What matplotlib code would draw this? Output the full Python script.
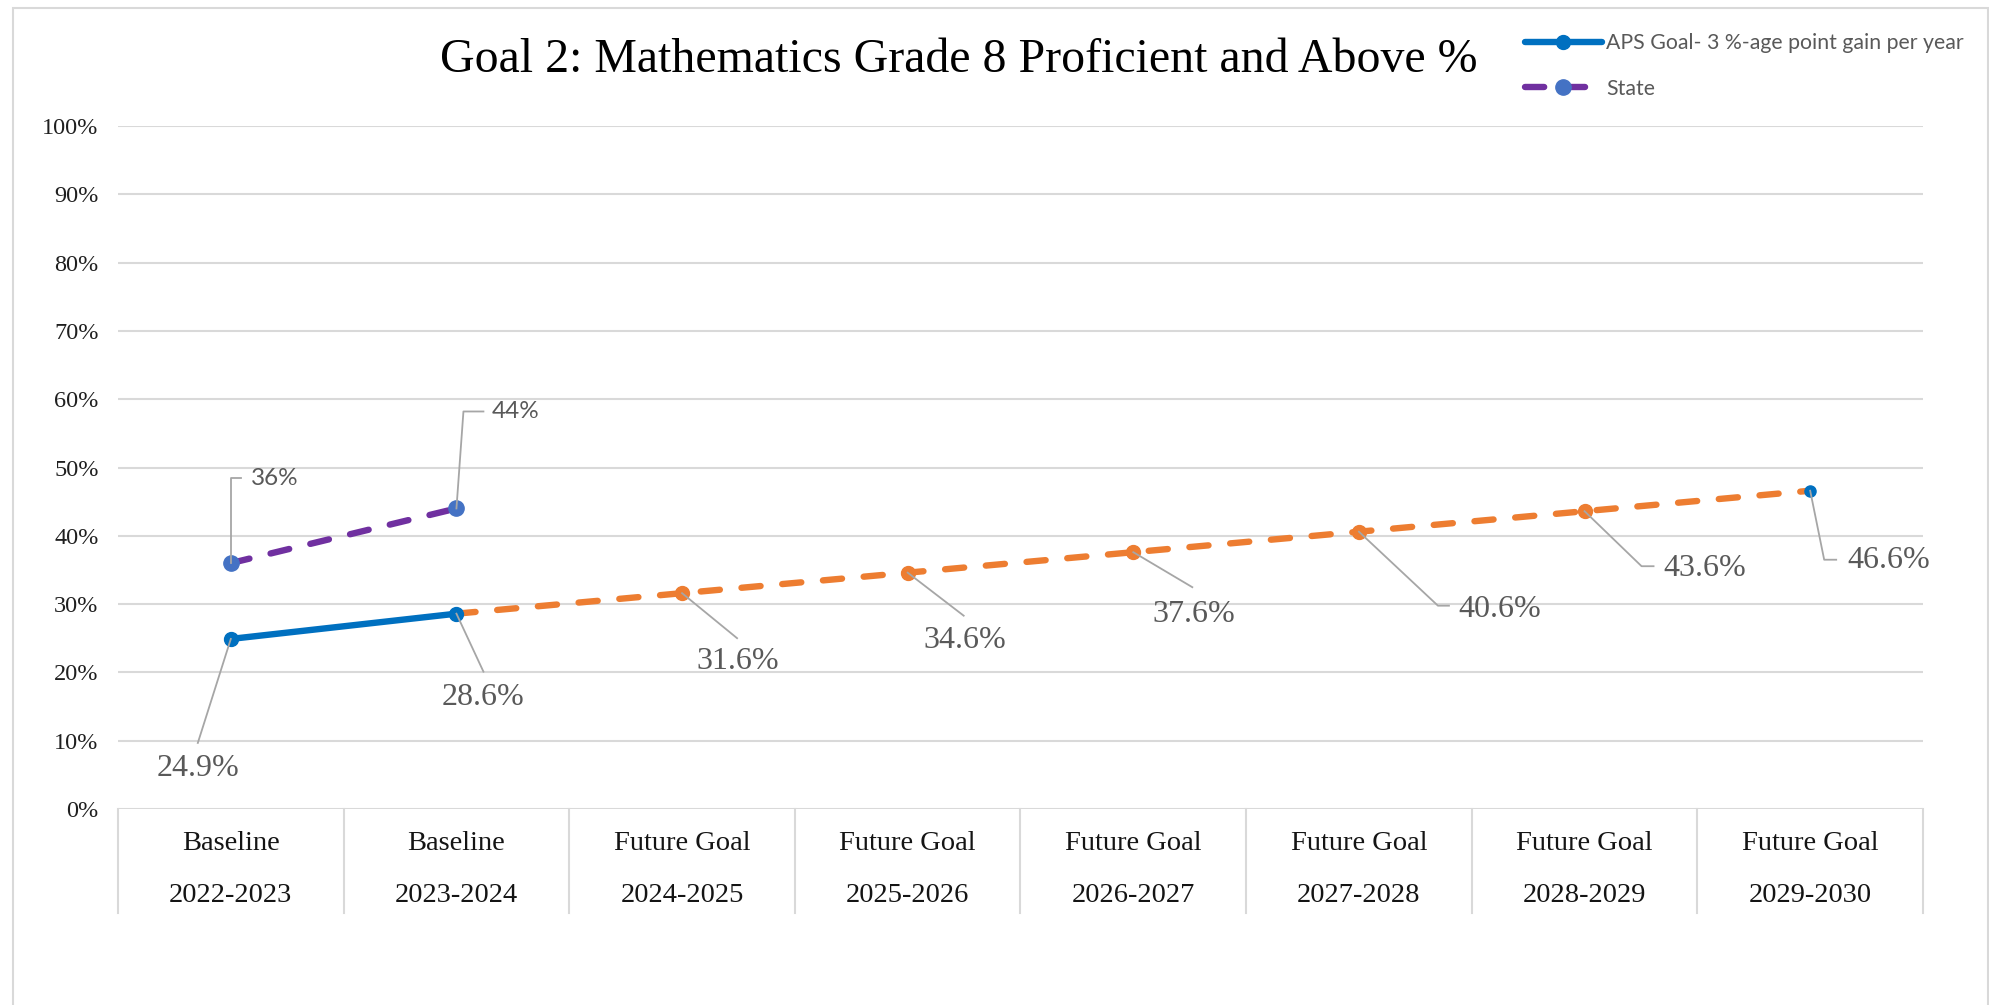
import matplotlib
matplotlib.use("Agg")
import matplotlib.pyplot as plt
from matplotlib.lines import Line2D
from matplotlib.patches import Rectangle
from matplotlib.ticker import PercentFormatter
from matplotlib.transforms import IdentityTransform

# --- dados ---
stage = ["Baseline", "Baseline", "Future Goal", "Future Goal", "Future Goal",
         "Future Goal", "Future Goal", "Future Goal"]
years = ["2022-2023", "2023-2024", "2024-2025", "2025-2026", "2026-2027",
         "2027-2028", "2028-2029", "2029-2030"]
aps_baseline = [24.9, 28.6]
aps_future = [28.6, 31.6, 34.6, 37.6, 40.6, 43.6, 46.6]   # começa em 2023-2024
state = [36, 44]

title = "Goal 2: Mathematics Grade 8 Proficient and Above %"
label_aps = "APS Goal- 3 %-age point gain per year"
label_state = "State"

BLUE = "#0070C0"
ORANGE = "#ED7D31"
PURPLE = "#7030A0"
STATE_MK = "#4472C4"
GRID = "#D9D9D9"
LABEL = "#595959"
LEADER = "#A6A6A6"
SERIF = "Liberation Serif"
SANS = "Lato"

W, H = 1990, 1005
fig = plt.figure(figsize=(W / 100, H / 100), dpi=100)

# moldura do gráfico
fig.add_artist(Rectangle((13 / W, -0.01), (1988 - 13) / W, 1 - 8 / H + 0.01,
                         transform=fig.transFigure, fill=False,
                         edgecolor=GRID, lw=1.5))

ax = fig.add_axes([118 / W, 1 - 809 / H, (1923 - 118) / W, (809 - 126) / H])
n = len(years)
ax.set_xlim(-0.5, n - 0.5)
ax.set_ylim(0, 100)
for s in ax.spines.values():
    s.set_visible(False)
ax.set_yticks(range(0, 101, 10))
ax.yaxis.set_major_formatter(PercentFormatter(xmax=100, decimals=0))
ax.tick_params(axis="y", length=0, pad=14, labelsize=17.5, labelcolor="#1f1f1f")
for t in ax.get_yticklabels():
    t.set_fontfamily(SERIF)
ax.set_xticks([])
ax.grid(axis="y", color=GRID, lw=1.5)
ax.set_axisbelow(True)

# caixa de categorias
xt = ax.get_xaxis_transform()
box_bottom = -(913 - 809) / (809 - 126)
for b in range(n + 1):
    ax.plot([b - 0.5, b - 0.5], [0, box_bottom], color=GRID, lw=1.5,
            transform=xt, clip_on=False)
for i in range(n):
    ax.text(i, -(843 - 809) / (809 - 126), stage[i], transform=xt,
            ha="center", va="center", fontsize=20.5, family=SERIF, color="#141414")
    ax.text(i, -(895 - 809) / (809 - 126), years[i], transform=xt,
            ha="center", va="center", fontsize=20.5, family=SERIF, color="#141414")

# séries
x_base = list(range(len(aps_baseline)))
x_fut = list(range(1, 1 + len(aps_future)))
x_state = list(range(len(state)))

ax.plot(x_fut, aps_future, color=ORANGE, lw=4.6, dashes=(3.0, 3.4),
        dash_capstyle="round", marker="o", ms=10, mfc=ORANGE, mec=ORANGE,
        markevery=list(range(1, len(aps_future) - 1)), zorder=3)
ax.plot(x_fut[-1:], aps_future[-1:], "o", color=BLUE, ms=8, zorder=4)
l_aps, = ax.plot(x_base, aps_baseline, color=BLUE, lw=4.6, marker="o", ms=10,
                 solid_capstyle="round", zorder=5)
l_state, = ax.plot(x_state, state, color=PURPLE, lw=4.6, dashes=(3.0, 3.4),
                   dash_capstyle="round", marker="o", ms=11, mfc=STATE_MK,
                   mec=STATE_MK, zorder=5)

# rótulos com linhas de chamada (deslocamentos em pixels, y para baixo)
def callout(x, y, text, path, txt, ha, size, family):
    px, py = ax.transData.transform((x, y))
    xs = [px] + [px + dx for dx, dy in path]
    ys = [py] + [py - dy for dx, dy in path]
    fig.add_artist(Line2D(xs, ys, transform=IdentityTransform(),
                          color=LEADER, lw=1.3))
    fig.text(px + txt[0], py - txt[1], text, transform=IdentityTransform(),
             ha=ha, va="center", fontsize=size, family=family, color=LABEL)

base_lay = [([(-33, 104)], (-33, 130), "center"),
            ([(27, 58)], (27, 84), "center")]
fut_lay = [None,
           ([(55, 45)], (56, 68), "center"),
           ([(56, 43)], (57, 68), "center"),
           ([(59, 35)], (61, 62), "center"),
           ([(79, 74), (90, 74)], (99, 78), "left"),
           ([(57, 55), (69, 55)], (79, 57), "left"),
           ([(14, 69), (26, 69)], (37, 70), "left")]
state_lay = [([(0, -85), (10, -85)], (20, -85), "left"),
             ([(7, -97), (27, -97)], (35, -97), "left")]

for xi, v, lay in zip(x_base, aps_baseline, base_lay):
    callout(xi, v, f"{v:.1f}%", lay[0], lay[1], lay[2], 23, SERIF)
for xi, v, lay in zip(x_fut, aps_future, fut_lay):
    if lay is not None:
        callout(xi, v, f"{v:.1f}%", lay[0], lay[1], lay[2], 23, SERIF)
for xi, v, lay in zip(x_state, state, state_lay):
    callout(xi, v, f"{v:.0f}%", lay[0], lay[1], lay[2], 17.5, SANS)

# título e legenda
fig.text(959 / W, 1 - 60 / H, title, ha="center", va="center",
         fontsize=34.5, family=SERIF, color="black")
leg = fig.legend([l_aps, l_state], [label_aps, label_state],
                 loc="upper left", bbox_to_anchor=(1506 / W, 1 - 14 / H),
                 frameon=False, handlelength=3.6, handletextpad=0.2,
                 labelspacing=1.2, prop={"family": SANS, "size": 15.3})
for t in leg.get_texts():
    t.set_color(LABEL)

fig.savefig("out.png", dpi=100)
